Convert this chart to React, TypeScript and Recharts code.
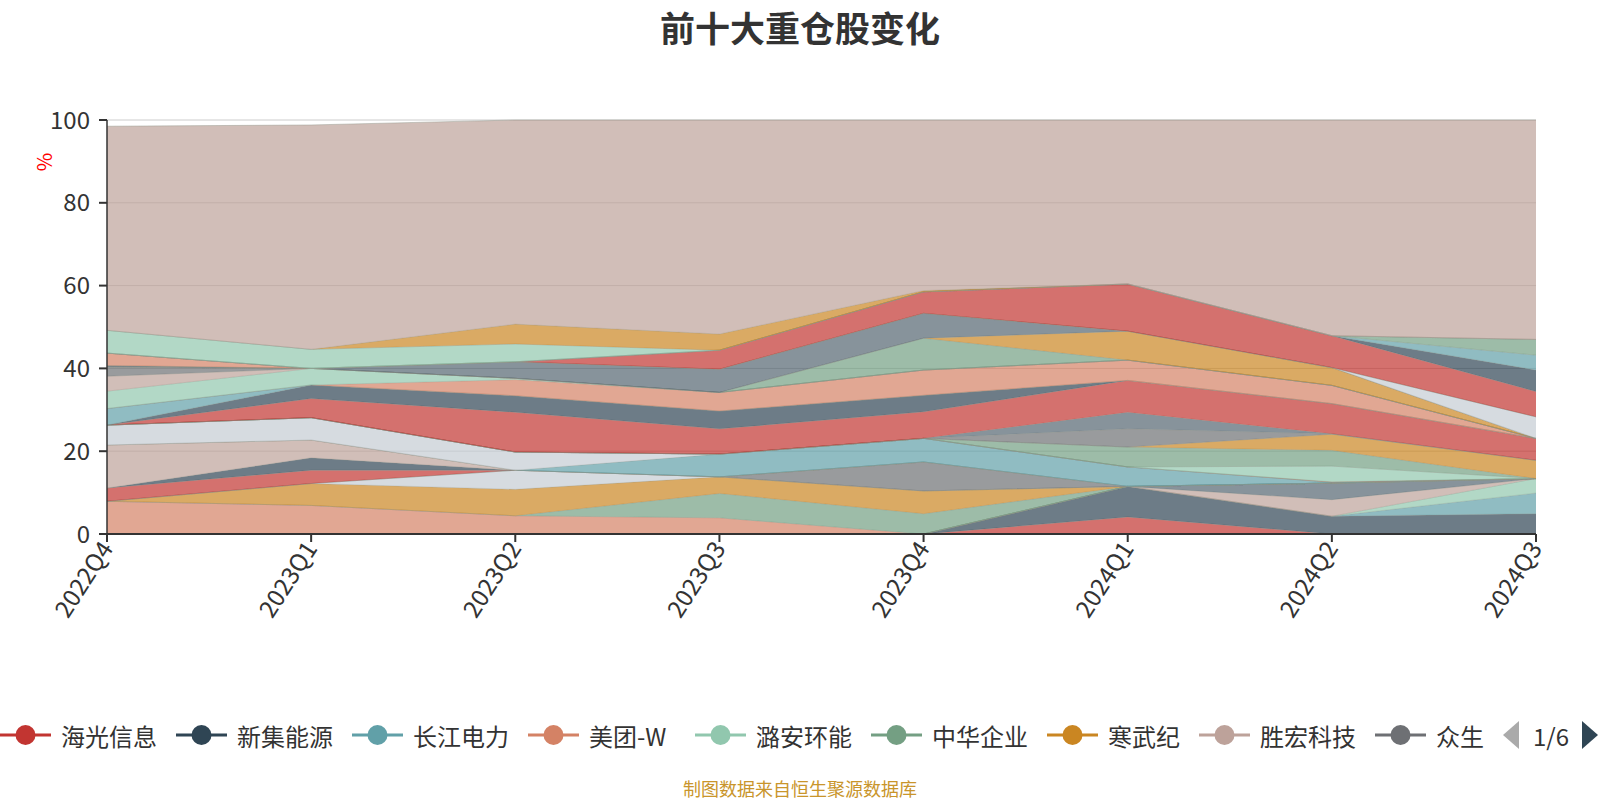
import React from 'react';
import { AreaChart, Area, XAxis, YAxis, CartesianGrid } from 'recharts';

const quarters = ['2022Q4', '2023Q1', '2023Q2', '2023Q3', '2023Q4', '2024Q1', '2024Q2', '2024Q3'];
const yTicks = [0, 20, 40, 60, 80, 100];
const legendNames = ['海光信息', '新集能源', '长江电力', '美团-W', '潞安环能', '中华企业', '寒武纪', '胜宏科技', '众生'];
const legendPager = '1/6';
const titleText = '前十大重仓股变化';
const footerText = '制图数据来自恒生聚源数据库';
const unitText = '%';

const palette = ['#c23531', '#2f4554', '#61a0a8', '#d48265', '#91c7ae', '#749f83', '#ca8622', '#bda29a', '#6e7074', '#546570', '#c4ccd3'];
const RED = 0, DSLATE = 1, TEAL = 2, SALMON = 3, LGREEN = 4, GREEN = 5, GOLD = 6, TAN = 7, GRAY = 8, BLUEGRAY = 9, LGRAY = 10;

// stacked layers, bottom to top (values in %)
const s01 = [0, 0, 0, 0, 0, 4.1, 0, 0];
const s02 = [0, 0, 0, 0, 0, 7.4, 4.3, 4.9];
const s03 = [0, 0, 0, 0, 0, 0, 0, 5.0];
const s04 = [0, 0, 0, 0, 0, 0, 0, 3.5];
const s05 = [0, 0, 0, 0, 0, 0, 4.0, 0];
const s06 = [0, 0, 0, 0, 0, 0, 4.0, 0];
const s07 = [7.9, 6.9, 4.4, 3.9, 0, 0, 0, 0];
const s08 = [0, 0, 0, 5.9, 4.9, 0, 0, 0];
const s09 = [0, 5.3, 6.4, 4.0, 5.5, 0, 0, 0];
const s10 = [0, 0, 4.6, 0, 0, 0, 0, 0];
const s11 = [0, 0, 0, 0, 7.0, 0, 0, 0];
const s12 = [3.2, 3.2, 0, 0, 0, 0, 0, 0];
const s13 = [0, 3.0, 0, 0, 0, 0, 0, 0];
const s14 = [10.4, 4.3, 0, 0, 0, 0, 0, 0];
const s15 = [0, 0, 0, 5.5, 5.7, 4.7, 0.2, 0];
const s16 = [4.8, 5.4, 4.4, 0, 0, 0, 0, 0];
const s17 = [0, 0, 0, 0, 0, 0, 0.1, 0];
const s18 = [0, 0, 0, 0, 0, 0, 3.8, 0];
const s19 = [0, 0, 0, 0, 0, 4.8, 3.8, 0];
const s20 = [0, 0, 0, 0, 0, 0, 3.9, 4.4];
const s21 = [0, 0, 0, 0, 0, 4.4, 0.1, 0];
const s22 = [0, 0, 0, 0, 0, 4.0, 0, 0];
const s23 = [0, 4.6, 9.6, 6.1, 6.4, 7.7, 7.3, 5.3];
const s24 = [0, 3.3, 4.0, 4.3, 4.0, 0, 0, 0];
const s25 = [4.0, 0, 0, 0, 0, 0, 0, 0];
const s26 = [0, 0, 3.9, 4.5, 6.1, 4.9, 4.4, 0];
const s27 = [4.2, 4.0, 0.3, 0, 0, 0, 0, 0];
const s28 = [3.6, 0, 0, 0, 0, 0, 0, 0];
const s29 = [2.3, 0, 0, 0, 0, 0, 0, 0];
const s30 = [0, 0, 0, 0, 7.7, 0, 0, 0];
const s31 = [0, 0, 0, 0, 0, 7.0, 4.3, 0];
const s32 = [0.3, 0, 4.0, 5.6, 6.0, 0, 0, 0];
const s33 = [0, 0, 0, 0, 0, 0, 0, 5.2];
const s34 = [3.0, 0, 0, 0, 0, 0, 0, 0];
const s35 = [0, 0, 0, 4.6, 5.2, 11.4, 7.7, 6.1];
const s36 = [0, 0, 0, 0, 0, 0, 0, 5.2];
const s37 = [0, 0, 0, 0, 0, 0, 0, 3.6];
const s38 = [0, 0, 0, 0, 0, 0, 0, 3.8];
const s39 = [5.5, 4.6, 4.3, 0, 0, 0, 0, 0];
const s40 = [0, 0, 4.8, 3.9, 0.3, 0, 0, 0];
const s41 = [49.3, 54.2, 49.3, 51.7, 41.2, 39.6, 52.1, 53.0];

const layers: { key: string; values: number[]; color: number }[] = [
  { key: 's01', values: s01, color: RED },
  { key: 's02', values: s02, color: DSLATE },
  { key: 's03', values: s03, color: TEAL },
  { key: 's04', values: s04, color: LGREEN },
  { key: 's05', values: s05, color: TAN },
  { key: 's06', values: s06, color: BLUEGRAY },
  { key: 's07', values: s07, color: SALMON },
  { key: 's08', values: s08, color: GREEN },
  { key: 's09', values: s09, color: GOLD },
  { key: 's10', values: s10, color: LGRAY },
  { key: 's11', values: s11, color: GRAY },
  { key: 's12', values: s12, color: RED },
  { key: 's13', values: s13, color: DSLATE },
  { key: 's14', values: s14, color: TAN },
  { key: 's15', values: s15, color: TEAL },
  { key: 's16', values: s16, color: LGRAY },
  { key: 's17', values: s17, color: SALMON },
  { key: 's18', values: s18, color: LGREEN },
  { key: 's19', values: s19, color: GREEN },
  { key: 's20', values: s20, color: GOLD },
  { key: 's21', values: s21, color: GRAY },
  { key: 's22', values: s22, color: BLUEGRAY },
  { key: 's23', values: s23, color: RED },
  { key: 's24', values: s24, color: DSLATE },
  { key: 's25', values: s25, color: TEAL },
  { key: 's26', values: s26, color: SALMON },
  { key: 's27', values: s27, color: LGREEN },
  { key: 's28', values: s28, color: TAN },
  { key: 's29', values: s29, color: GRAY },
  { key: 's30', values: s30, color: GREEN },
  { key: 's31', values: s31, color: GOLD },
  { key: 's32', values: s32, color: BLUEGRAY },
  { key: 's33', values: s33, color: LGRAY },
  { key: 's34', values: s34, color: SALMON },
  { key: 's35', values: s35, color: RED },
  { key: 's36', values: s36, color: DSLATE },
  { key: 's37', values: s37, color: TEAL },
  { key: 's38', values: s38, color: GREEN },
  { key: 's39', values: s39, color: LGREEN },
  { key: 's40', values: s40, color: GOLD },
  { key: 's41', values: s41, color: TAN },
];

const data = quarters.map((q, i) => {
  const row: Record<string, any> = { quarter: q };
  layers.forEach((l) => { row[l.key] = l.values[i]; });
  return row;
});

const FONT = "'Noto Sans CJK SC', 'Noto Sans', sans-serif";

const XTick = (props: any) => {
  const { x, y, payload } = props;
  return (
    <g transform={`translate(${x},${y})`}>
      <text x={0} y={0} dy="0.35em" textAnchor="end" transform="rotate(-57)" fill="#333" fontSize={24} fontFamily={FONT}>
        {payload.value}
      </text>
    </g>
  );
};

const legendTextWidths = [96, 96, 96, 87, 96, 96, 72, 96, 48];

const Legend = () => {
  let start = 0;
  const items = legendNames.map((name, i) => {
    const x0 = start;
    start += 50 + 10 + legendTextWidths[i] + 20;
    const c = palette[i];
    return (
      <g key={name}>
        <line x1={x0} x2={x0 + 51} y1={735} y2={735} stroke={c} strokeWidth={3} />
        <circle cx={x0 + 25.5} cy={735} r={10} fill={c} />
        <text x={x0 + 61} y={735} dominantBaseline="central" fontSize={24} fill="#333" fontFamily={FONT}>{name}</text>
      </g>
    );
  });
  return (
    <g>
      {items}
      <polygon points="1519,721 1503,735 1519,749" fill="#aaa" />
      <text x={1533} y={735} dominantBaseline="central" fontSize={24} fill="#333" fontFamily={FONT}>{legendPager}</text>
      <polygon points="1582,721 1598,735 1582,749" fill="#2f4554" />
    </g>
  );
};

export default function App() {
  return (
    <div style={{ position: 'absolute', left: 0, top: 0, width: 1600, height: 800, background: '#fff', fontFamily: FONT }}>
      <AreaChart width={1600} height={800} data={data} margin={{ top: 120, right: 64, bottom: 166, left: 0 }}>
        <CartesianGrid horizontal vertical={false} stroke="#ccc" />
        <XAxis
          dataKey="quarter"
          height={100}
          interval={0}
          tick={<XTick />}
          tickSize={8}
          axisLine={{ stroke: '#333', strokeWidth: 2 }}
          tickLine={{ stroke: '#333', strokeWidth: 2 }}
        />
        <YAxis
          width={107}
          domain={[0, 100]}
          ticks={yTicks}
          tickSize={8}
          tickMargin={9}
          axisLine={{ stroke: '#333', strokeWidth: 1.5 }}
          tickLine={{ stroke: '#333', strokeWidth: 2 }}
          tick={{ fontSize: 24, fill: '#333', fontFamily: FONT }}
        />
        {layers.map((l) => (
          <Area
            key={l.key}
            type="linear"
            dataKey={l.key}
            stackId="a"
            fill={palette[l.color]}
            fillOpacity={0.7}
            stroke="#8f9488"
            strokeOpacity={0.55}
            strokeWidth={0.8}
            dot={false}
            activeDot={false}
            isAnimationActive={false}
          />
        ))}
      </AreaChart>
      <svg width={1600} height={800} style={{ position: 'absolute', left: 0, top: 0, pointerEvents: 'none' }}>
        <text x={800} y={26} textAnchor="middle" dominantBaseline="central" fontSize={35} fontWeight="bold" fill="#333" fontFamily={FONT}>{titleText}</text>
        <text x={43} y={162} textAnchor="middle" dominantBaseline="central" fontSize={20} fill="#ff0000" fontFamily={FONT} transform="rotate(-90, 43, 162)">{unitText}</text>
        <Legend />
        <text x={800} y={788} textAnchor="middle" dominantBaseline="central" fontSize={18} fill="#c9952b" fontFamily={FONT}>{footerText}</text>
      </svg>
    </div>
  );
}
